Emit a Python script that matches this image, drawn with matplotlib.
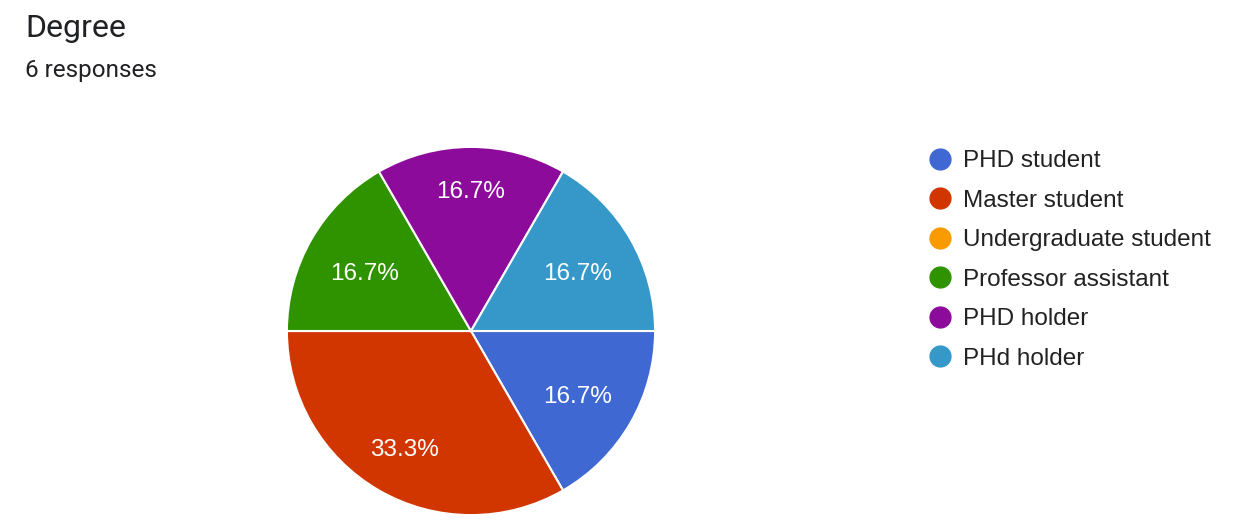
import numpy as np
import matplotlib
matplotlib.use("Agg")
import matplotlib.pyplot as plt
import matplotlib.transforms as mtransforms
from matplotlib.lines import Line2D

# data
categories = ["PHD student", "Master student", "Undergraduate student",
              "Professor assistant", "PHD holder", "PHd holder"]
counts = [1, 2, 0, 1, 1, 1]
colors = ["#3f68d3", "#d23600", "#f99b00", "#2f9300", "#8d0b9b", "#3698c8"]
label_dist = [0.67, 0.72, 0.0, 0.67, 0.78, 0.67]

fig = plt.figure(figsize=(12.58, 5.30), dpi=100)
W, H = 1258, 530

fig.text(25 / W, 1 - 37 / H, "Degree", family="Roboto", fontsize=23,
         color="#202124", va="baseline")
fig.text(25 / W, 1 - 77 / H, "6 responses", family="Roboto", fontsize=17.5,
         color="#202124", va="baseline")

cx, cy, r = 471, 331, 185
ax = fig.add_axes([(cx - r) / W, (H - cy - r) / H, 2 * r / W, 2 * r / H])


def fmt(p):
    return "" if p < 0.01 else f"{p:.1f}%"


wedges, texts, autotexts = ax.pie(
    counts, colors=colors, startangle=0, counterclock=False,
    autopct=fmt, wedgeprops=dict(edgecolor="white", linewidth=1.5),
    textprops=dict(color="white", family="Liberation Sans", fontsize=17.5))
ax.set_xlim(-1.005, 1.005)
ax.set_ylim(-1.005, 1.005)
ax.set_aspect("equal")

# nudge labels down a couple of pixels
shift = mtransforms.ScaledTranslation(0, -2 / 100, fig.dpi_scale_trans)
for w, t, d in zip(wedges, autotexts, label_dist):
    ang = np.deg2rad((w.theta1 + w.theta2) / 2)
    t.set_position((d * np.cos(ang), d * np.sin(ang)))
    t.set_va("center_baseline")
    t.set_transform(ax.transData + shift)

handles = [Line2D([], [], linestyle="none", marker="o", markersize=15,
                  markerfacecolor=c, markeredgecolor=c) for c in colors]
fig.legend(handles, categories, loc="upper left",
           bbox_to_anchor=(928 / W, 1 - 150 / H), frameon=False,
           borderpad=0, borderaxespad=0, handlelength=1.0,
           handletextpad=0.42, labelspacing=0.72,
           prop=dict(family="Liberation Sans", size=17.5),
           labelcolor="#222222")

fig.savefig("out.png", dpi=100, facecolor="white")
